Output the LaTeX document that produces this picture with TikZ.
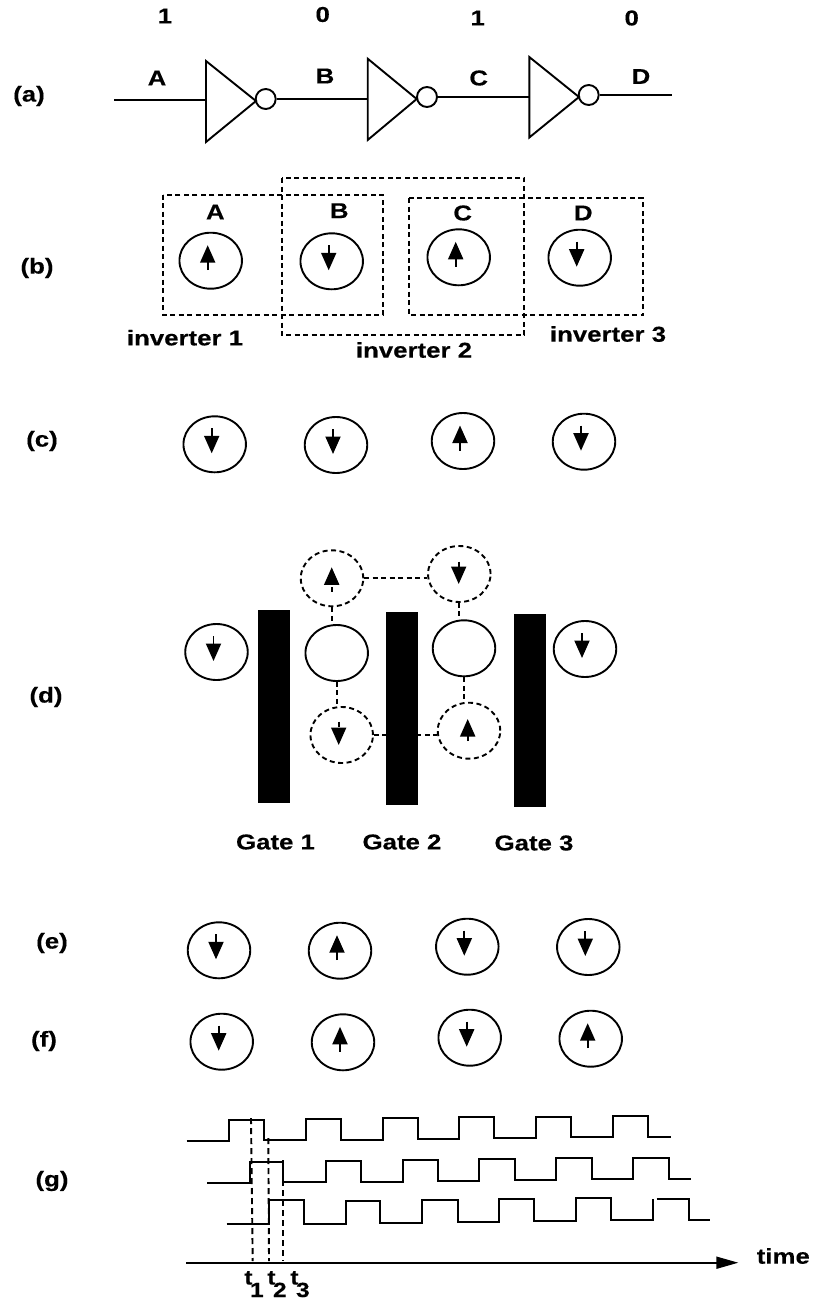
\documentclass[tikz,border=0pt]{standalone}
\usepackage{fontspec}
\setmainfont{Liberation Sans}
\newfontfamily\labfont[FakeStretch=1.2,BoldFeatures={FakeBold=0.3}]{Liberation Sans}
\usetikzlibrary{arrows.meta,shapes.geometric,calc}
\tikzset{
  ln/.style={line width=1.9pt,line cap=butt},
  lab/.style={inner sep=0pt,outer sep=0pt,font=\labfont\bfseries\fontsize{21.5pt}{21.5pt}\selectfont},
  tlab/.style={inner sep=0pt,outer sep=0pt,font=\labfont\bfseries\fontsize{20.5pt}{20.5pt}\selectfont},
  spinc/.style={ln,draw,ellipse,minimum width=62.5pt,minimum height=56pt,inner sep=0pt},
  ghost/.style={spinc,dash pattern=on 5pt off 3.5pt},
  bub/.style={ln,draw,circle,minimum size=20pt,inner sep=0pt},
  dbox/.style={ln,draw,dash pattern=on 5pt off 3.5pt},
  conn/.style={ln,dash pattern=on 5pt off 3.5pt},
  bar/.style={fill=black,minimum width=32pt,minimum height=193pt,inner sep=0pt,outer sep=0pt},
  spinarrow/.style={ln,-{Triangle[length=17.5pt,width=15pt]}},
  ghostarrow/.style={spinarrow,dash pattern=on 5pt off 3pt},
  wave/.style={ln,line join=miter},
  tick/.style={line width=1.9pt,dash pattern=on 6pt off 4pt},
}
\newcommand\spinup[3]{\node[spinc] (#1) at (#2,#3) {};
  \draw[spinarrow] ($(#1)+(-3,9.5)$) -- ($(#1)+(-3,-15.5)$);}
\newcommand\spindown[3]{\node[spinc] (#1) at (#2,#3) {};
  \draw[spinarrow] ($(#1)+(-3,-16)$) -- ($(#1)+(-3,9)$);}
\begin{document}
\begin{tikzpicture}[x=1pt,y=-1pt]
\useasboundingbox (0,0) rectangle (814,1302);
% (a)
\node[lab] (la) at (29,96) {(a)};
\node[lab] (v1) at (165,16) {1};
\node[lab] (v2) at (322.7,14.5) {0};
\node[lab] (v3) at (477.7,18) {1};
\node[lab] (v4) at (631.7,18) {0};
\node[lab] (wA) at (157,78) {A};
\node[lab] (wB) at (325,76) {B};
\node[lab] (wC) at (478.7,78) {C};
\node[lab] (wD) at (641,76.5) {D};
\coordinate (s0) at (114,100);
\coordinate (in1) at (206,100);
\coordinate (in2) at (367.7,98);
\coordinate (in3) at (529.3,96);
\coordinate (e0) at (672,94.5);
\draw[ln,line join=miter] (206,61) -- (256,101) -- (206,142) -- cycle;
\draw[ln,line join=miter] (367.7,58.7) -- (416.7,99) -- (367.7,140) -- cycle;
\draw[ln,line join=miter] (529.3,57) -- (579,97) -- (529.3,137.5) -- cycle;
\node[bub] (b1) at (265.7,99) {};
\node[bub] (b2) at (427,97) {};
\node[bub] (b3) at (588.7,95) {};
\draw[ln] (s0) -- (in1);
\draw[ln] (b1.east) -- (b1.east -| in2);
\draw[ln] (b2.east) -- (b2.east -| in3);
\draw[ln] (b3.east) -- (b3.east -| e0);
% (b)
\node[lab] (lb) at (37,268) {(b)};
\draw[dbox] (163.3,194.7) rectangle (382.7,315.3);
\draw[dbox] (282,178) rectangle (524.3,335.3);
\draw[dbox] (409.3,198) rectangle (642.7,315.3);
\node[lab] (nA) at (215.3,212) {A};
\node[lab] (nB) at (339.3,210.7) {B};
\node[lab] (nC) at (462.7,213) {C};
\node[lab] (nD) at (583.3,213) {D};
\spinup{bA}{210.7}{260.7}
\spindown{bB}{331.7}{261.3}
\spinup{bC}{458.7}{257.3}
\spindown{bD}{579.7}{257.7}
\node[lab] (i1) at (185,337.7) {inverter 1};
\node[lab] (i2) at (414,350) {inverter 2};
\node[lab] (i3) at (608,334) {inverter 3};
% (c)
\node[lab] (lc) at (42,441) {(c)};
\spindown{c1}{214.7}{444.3}
\spindown{c2}{336}{445}
\spinup{c3}{463}{441}
\spindown{c4}{584}{441.7}
% (d)
\node[lab] (ld) at (46,697) {(d)};
\node[bar] (g1) at (274,706.5) {};
\node[bar] (g2) at (402,708.5) {};
\node[bar] (g3) at (530,710.5) {};
\spindown{dL}{216.5}{652}
\spindown{dR}{585}{649}
\node[spinc] (p1) at (336.7,653) {};
\node[spinc] (p2) at (464,648.3) {};
\node[ghost] (u1) at (332,578.3) {};
\node[ghost] (u2) at (459.3,574) {};
\node[ghost] (d1) at (341.7,735) {};
\node[ghost] (d2) at (469,730.7) {};
\draw[ghostarrow] ($(u1)+(-.3,13.4)$) -- ($(u1)+(-.3,-11)$);
\draw[ghostarrow] ($(u2)+(-.6,-12.3)$) -- ($(u2)+(-.6,10)$);
\draw[ghostarrow] ($(d1)+(-3,-13.3)$) -- ($(d1)+(-3,10)$);
\draw[ghostarrow] ($(d2)+(-1.3,10.3)$) -- ($(d2)+(-1.3,-11.7)$);
\draw[conn] (u1.south) -- (u1.south |- p1.north);
\draw[conn] (u2.south) -- (u2.south |- p2.north);
\draw[conn] (p1.south) -- (p1.south |- d1.north);
\draw[conn] (p2.south) -- (p2.south |- d2.north);
\draw[conn] (u1.east) -- (u1.east -| u2.west);
\draw[conn] (d1.east) -- (d1.east -| d2.west);
\fill[black] (g2.north west) rectangle (g2.south east);
\node[lab] (G1) at (275.5,842) {Gate 1};
\node[lab] (G2) at (402,842) {Gate 2};
\node[lab] (G3) at (534,843) {Gate 3};
% (e)
\node[lab] (le) at (52,943) {(e)};
\spindown{e1}{219}{950.3}
\spinup{e2}{340}{950.7}
\spindown{e3}{467.3}{946.7}
\spindown{e4}{588.3}{947}
% (f)
\node[lab] (lf) at (44,1041) {(f)};
\spindown{f1}{221.7}{1041.7}
\spinup{f2}{343}{1042.3}
\spindown{f3}{469.7}{1037.7}
\spinup{f4}{590.7}{1038.7}
% (g)
\node[lab] (lg) at (52,1181) {(g)};
\draw[wave] (186.7,1141.3) -| (229,1120) -| (264.3,1139.7) -- (269,1139.7) -- (269,1140.3) -| (306,1119) -| (341,1139.7) -| (382.7,1118.3) -| (417.7,1139) -| (459.3,1117.3) -| (494.3,1138.3) -| (536,1116.7) -| (571,1137.3) -| (613.3,1115.7) -| (648.3,1136.7) -- (670.7,1136.7);
\draw[wave] (207.3,1182.7) -| (250,1162.3) -| (283.3,1182.3) -| (326,1161) -| (361.3,1181.7) -| (402.7,1160) -| (438,1181) -| (479.3,1159.3) -| (515,1180) -| (556,1158.3) -| (591.7,1179.3) -| (633.3,1157.7) -| (668.7,1178.7) -- (690.7,1178.7);
\draw[wave] (226.7,1224) -| (269,1200) -| (303.7,1223.7) -| (345.7,1200.7) -| (380.3,1223) -| (422.3,1200) -| (457.7,1222) -| (499,1199.3) -| (534.3,1220.7) -| (576,1198) -| (611,1220) -- (652.7,1220) -- (652.7,1199);
\draw[wave] (656.7,1198.7) -| (688.7,1219.7) -- (710.3,1219.7);
\coordinate (ax0) at (186,1262.7);
\node[lab] (tm) at (783.3,1256) {time};
\coordinate (ax1) at (738.3,1262.7);
\draw[ln,-{Triangle[length=22pt,width=12pt]}] (ax0) -- (ax1);
\node[tlab,anchor=base] (t1) at (254,1284.5) {t\kern-2.5pt\raisebox{-12.5pt}{1}};
\node[tlab,anchor=base] (t2) at (277,1284.5) {t\kern-2.5pt\raisebox{-12.5pt}{2}};
\node[tlab,anchor=base] (t3) at (300,1284.5) {t\kern-2.5pt\raisebox{-12.5pt}{3}};
\draw[tick] (251,1118) -- (252.7,1261);
\draw[tick] (268.3,1138) -- (269,1261);
\draw[tick] (283.3,1160) -- (283.3,1261);
\end{tikzpicture}
\end{document}
